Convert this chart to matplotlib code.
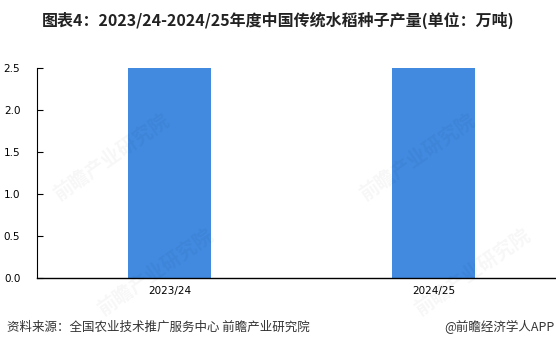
import matplotlib.pyplot as plt

plt.rcParams['font.family'] = ['Noto Sans CJK SC', 'DejaVu Sans']

years = ['2023/24', '2024/25']
output = [2.5, 2.5]
yticks = [0.0, 0.5, 1.0, 1.5, 2.0, 2.5]

fig = plt.figure(figsize=(5.56, 3.49), dpi=100)
ax = fig.add_axes([0.0665, 0.2034, 0.9335, 0.6016])

x = range(len(years))
ax.bar(x, output, width=0.315, color='#418ae0')
ax.set_xlim(-0.502, 1.464)
ax.set_ylim(0, 2.5)
ax.set_xticks(list(x))
ax.set_xticklabels(years, fontsize=7.5, family='DejaVu Sans')
ax.set_yticks(yticks)
ax.set_yticklabels(['%.1f' % v for v in yticks], fontsize=7.5, family='DejaVu Sans')
ax.tick_params(axis='x', length=0, pad=6)
ax.tick_params(axis='y', direction='in', length=4, width=0.8, pad=12)
for s in ['top', 'right']:
    ax.spines[s].set_visible(False)
ax.spines['left'].set_linewidth(0.8)
ax.spines['bottom'].set_linewidth(1.0)

# faint watermarks
for wx, wy in [(0.2, 0.55), (0.75, 0.55), (0.28, 0.22), (0.85, 0.22)]:
    fig.text(wx, wy, '前瞻产业研究院', fontsize=14, color='#000000', alpha=0.035,
             rotation=35, ha='center', va='center', fontweight='bold')

fig.text(0.5, 0.942, '图表4：2023/24-2024/25年度中国传统水稻种子产量(单位：万吨)',
         ha='center', va='center', fontsize=11.5, fontweight='bold', color='#222222')
fig.text(0.013, 0.063, '资料来源：全国农业技术推广服务中心 前瞻产业研究院',
         ha='left', va='center', fontsize=9, color='#333333')
fig.text(0.998, 0.063, '@前瞻经济学人APP',
         ha='right', va='center', fontsize=9, color='#333333')

fig.savefig('out.png', dpi=100)
